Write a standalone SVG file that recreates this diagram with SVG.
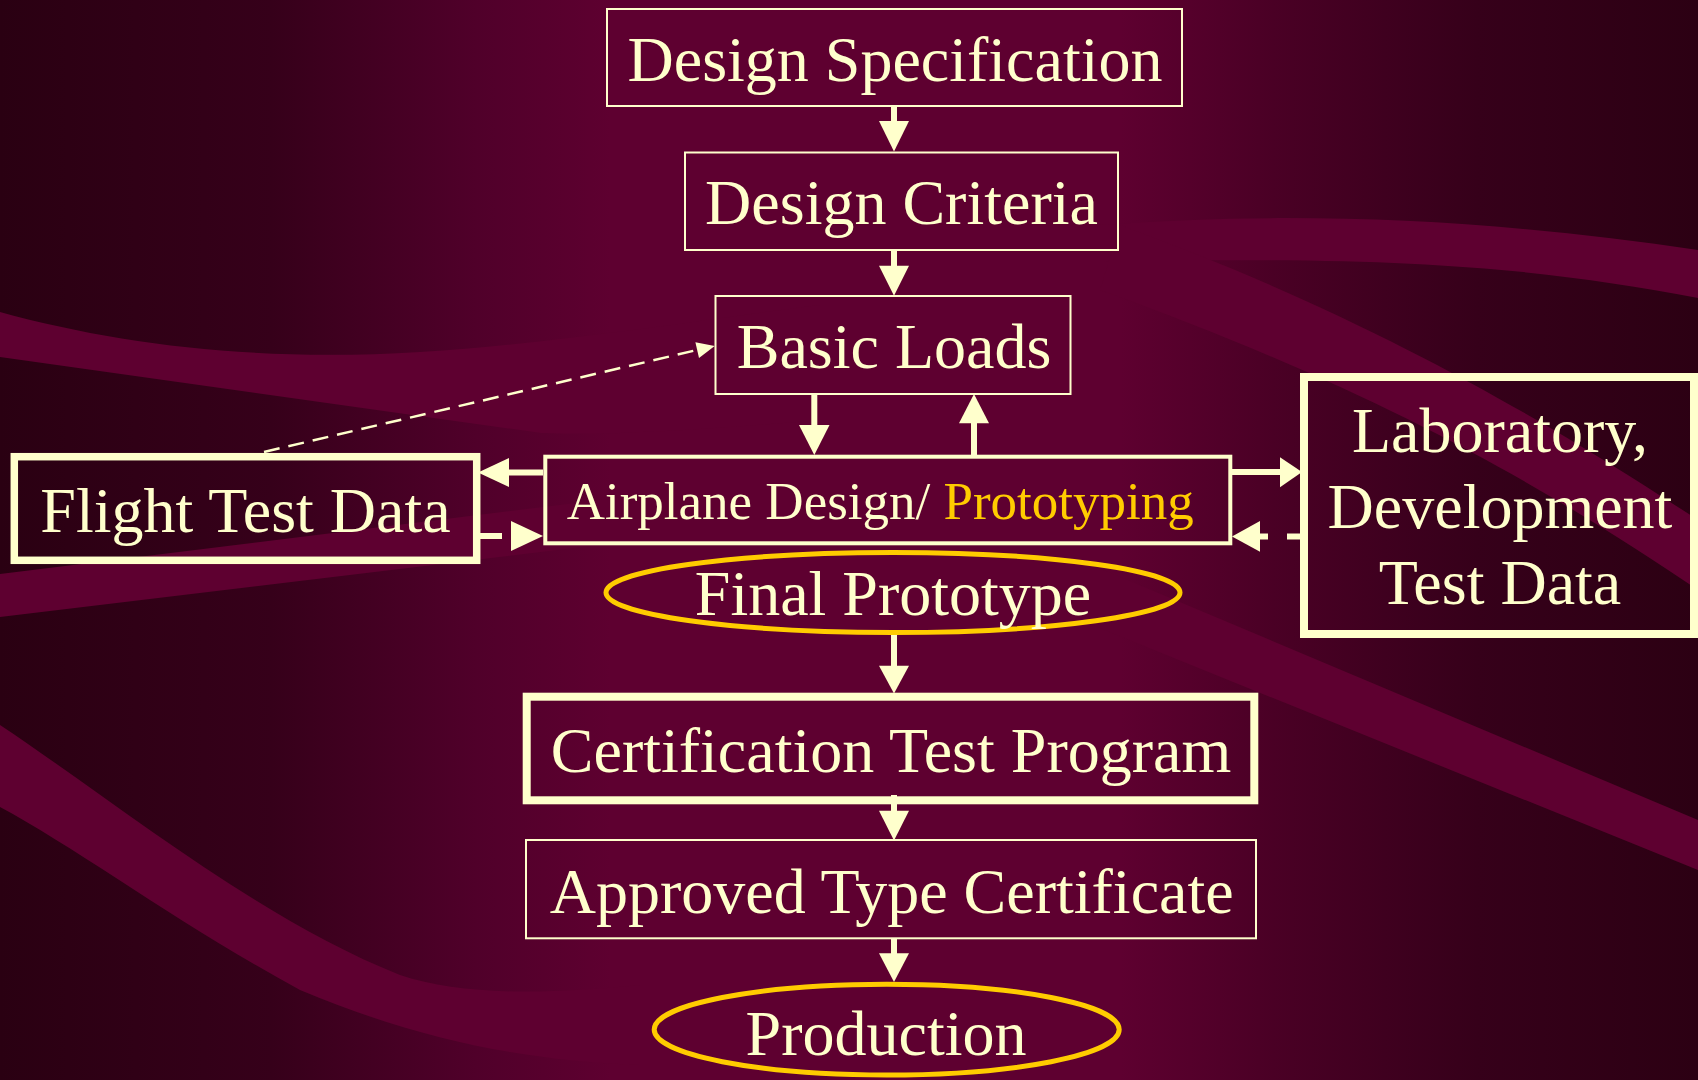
<svg xmlns="http://www.w3.org/2000/svg" width="1698" height="1080" viewBox="0 0 1698 1080">
<defs>
<linearGradient id="bg" x1="0" y1="0" x2="1" y2="0">
<stop offset="0" stop-color="#2a0012"/>
<stop offset="0.16" stop-color="#36001a"/>
<stop offset="0.28" stop-color="#50002a"/>
<stop offset="0.36" stop-color="#5e0030"/>
<stop offset="0.66" stop-color="#5e0030"/>
<stop offset="0.75" stop-color="#4a0025"/>
<stop offset="0.87" stop-color="#36001a"/>
<stop offset="1" stop-color="#2c0013"/>
</linearGradient>
<style>
.box{fill:none;stroke:#FFFFCC}
.thin{stroke-width:2}
.thick{stroke-width:8}
.oval{fill:none;stroke:#FFCC00;stroke-width:5}
.t{font-family:"Liberation Serif","Times New Roman",serif;font-size:64px;fill:#FFFFCC}
.m{text-anchor:middle}
.gold{fill:#FFCC00}
.sh{stroke:#FFFFCC;stroke-width:6;fill:none}
.hd{fill:#FFFFCC}
.band{fill:#5e0030}
</style>
</defs>
<g id="background">
<rect x="0" y="0" width="1698" height="1080" fill="url(#bg)"/>
<path class="band" d="M0,312 C120,345 260,362 420,352 C560,343 700,320 820,305 L820,420 C700,430 600,436 541,433 L0,357 Z"/>
<path class="band" d="M0,574 L640,495 L640,540 L0,617 Z"/>
<path class="band" d="M0,725 C120,805 260,920 400,975 C460,995 540,995 640,985 L640,1065 C520,1060 420,1040 300,990 C180,925 80,850 0,807 Z"/>
<path class="band" d="M1100,225 C1300,210 1500,220 1698,250 L1698,298 C1540,268 1400,255 1100,262 Z"/>
<path class="band" d="M1120,225 C1380,320 1560,430 1698,520 L1698,590 C1550,490 1380,390 1100,290 Z"/>
<path class="band" d="M1080,560 L1698,820 L1698,870 L1080,620 Z"/>
</g>
<g id="connectors">
<line class="sh" x1="894" y1="106" x2="894" y2="122"/>
<polygon class="hd" points="879,121 909,121 894,151.5"/>
<line class="sh" x1="894" y1="250" x2="894" y2="266"/>
<polygon class="hd" points="879,265.7 909,265.7 894,295.7"/>
<line class="sh" x1="814.3" y1="394" x2="814.3" y2="426"/>
<polygon class="hd" points="799,425 829.5,425 814.3,455"/>
<line class="sh" x1="974" y1="455" x2="974" y2="422"/>
<polygon class="hd" points="959,423.3 989,423.3 974,394"/>
<line class="sh" x1="543" y1="472.5" x2="508" y2="472.5"/>
<polygon class="hd" points="509,458 509,487 478,472.5"/>
<line class="sh" x1="480" y1="536" x2="502" y2="536"/>
<polygon class="hd" points="511,521 511,551 543,536"/>
<line class="sh" x1="1232" y1="472" x2="1281" y2="472"/>
<polygon class="hd" points="1280,457.3 1280,487.3 1302,472"/>
<line class="sh" x1="1300" y1="536.5" x2="1287" y2="536.5"/>
<line class="sh" x1="1268" y1="536.5" x2="1259" y2="536.5"/>
<polygon class="hd" points="1260,521 1260,551.7 1232,536.5"/>
<line x1="264" y1="452" x2="697" y2="350" stroke="#FFFFCC" stroke-width="2.5" stroke-dasharray="16 9"/>
<polygon class="hd" points="699,357.9 695.4,342.3 714.7,346"/>
<line class="sh" x1="894" y1="635" x2="894" y2="667"/>
<polygon class="hd" points="879,665.7 909,665.7 894,693.5"/>
<line class="sh" x1="894" y1="795" x2="894" y2="811"/>
<polygon class="hd" points="879,810.7 909,810.7 894,840.5"/>
<line class="sh" x1="894" y1="938" x2="894" y2="954"/>
<polygon class="hd" points="879,953.3 909,953.3 894,982"/>
</g>
<g id="design-specification">
<rect class="box thin" x="607" y="9" width="575" height="97"/>
<text class="t m" x="895" y="81">Design Specification</text>
</g>
<g id="design-criteria">
<rect class="box thin" x="685" y="152.5" width="433" height="97.5"/>
<text class="t m" x="901.5" y="223.5">Design Criteria</text>
</g>
<g id="basic-loads">
<rect class="box thin" x="715.5" y="296" width="355" height="98"/>
<text class="t m" x="894" y="368.3">Basic Loads</text>
</g>
<g id="airplane-design">
<rect class="box" stroke-width="4" x="545.3" y="456.7" width="685" height="86.6"/>
<text class="t" x="566.7" y="519.3" style="font-size:53px">Airplane Design/ <tspan class="gold">Prototyping</tspan></text>
</g>
<g id="flight-test-data">
<rect class="box" stroke-width="7.5" x="14.3" y="456.7" width="462.4" height="103.6"/>
<text class="t m" x="245.5" y="531.7">Flight Test Data</text>
</g>
<g id="lab-test-data">
<rect class="box thick" x="1304" y="377" width="390" height="257"/>
<text class="t m" x="1500" y="452">Laboratory,</text>
<text class="t m" x="1500" y="528">Development</text>
<text class="t m" x="1500" y="604">Test Data</text>
</g>
<g id="final-prototype">
<ellipse class="oval" cx="893" cy="592.5" rx="287" ry="40"/>
<text class="t m" x="893" y="615">Final Prototype</text>
</g>
<g id="certification-test-program">
<rect class="box thick" x="526.7" y="696.7" width="727.6" height="103.6"/>
<text class="t m" x="891" y="771.7">Certification Test Program</text>
</g>
<g id="approved-type-certificate">
<rect class="box thin" x="526" y="840" width="730" height="98.3"/>
<text class="t m" x="891.7" y="912.7">Approved Type Certificate</text>
</g>
<g id="production">
<ellipse class="oval" cx="886.7" cy="1029.6" rx="232.5" ry="45.4"/>
<text class="t m" x="886" y="1055">Production</text>
</g>
</svg>
